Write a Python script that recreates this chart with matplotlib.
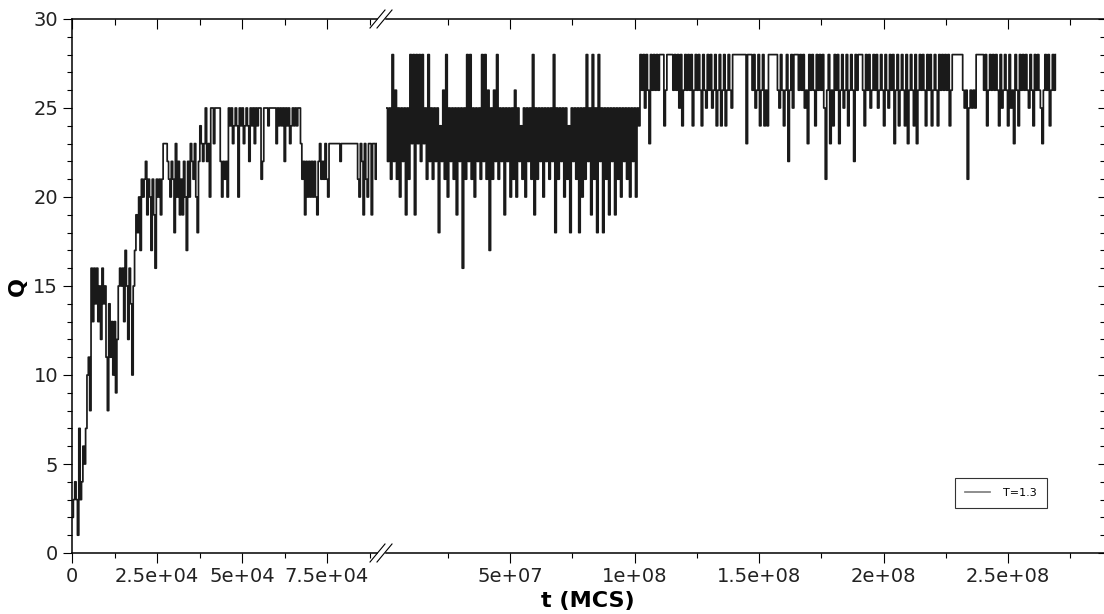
import numpy as np
import matplotlib.pyplot as plt
from matplotlib.lines import Line2D
from matplotlib.ticker import MultipleLocator

# Q(t) for T=1.3
# left part: one sample every 400 MCS starting at t=0
dt_left = 400
q_left = [2, 3, 4, 3, 1, 7, 3, 4, 6, 5, 7, 10, 11, 8,
          16, 13, 16, 14, 16, 13, 15, 12, 16, 14, 15, 11, 8, 14, 11, 13,
          10, 13, 9, 12, 15, 16, 15, 16, 13, 17, 15, 12, 16, 14, 10, 15,
          17, 19, 18, 20, 17, 21, 20, 21, 22, 19, 21, 20, 17, 21, 19, 16,
          21, 20, 21, 19, 21, 23, 23, 23, 22, 21, 20, 22, 21, 18, 23, 20,
          22, 19, 21, 19, 22, 20, 17, 22, 20, 23, 22, 21, 23, 20, 18, 22,
          24, 23, 22, 23, 25, 22, 23, 20, 25, 25, 23, 25, 25, 25, 25, 22,
          20, 22, 21, 22, 20, 25, 24, 25, 23, 24, 25, 24, 20, 25, 24, 25,
          23, 24, 25, 24, 22, 25, 24, 25, 23, 25, 24, 25, 25, 21, 22, 25,
          25, 25, 24, 25, 25, 25, 25, 25, 23, 25, 24, 25, 24, 25, 22, 25,
          24, 25, 23, 24, 25, 24, 25, 24, 25, 25, 23, 21, 22, 19, 22, 20,
          22, 20, 22, 20, 22, 20, 19, 22, 23, 21, 22, 21, 23, 21, 20, 23,
          23, 23, 23, 23, 23, 23, 23, 22, 23, 23, 23, 23, 23, 23, 23, 23,
          23, 23, 23, 23, 21, 20, 23, 22, 19, 23, 21, 20, 23, 23, 19, 23,
          23, 21, 23]

# right part: one sample every 6e5 MCS starting at t=2e5
t0_right = 2e5
dt_right = 6e5
# before the jump (t < 1e8): Q flips between ~25 and ~21
q_right_a = [25, 22, 25, 21, 28, 22, 26, 21, 25, 20, 25, 22, 25, 19, 25, 21,
             28, 23, 28, 19, 28, 23, 28, 22, 28, 23, 25, 21, 28, 22, 25, 21,
             25, 22, 25, 18, 24, 22, 26, 21, 28, 20, 25, 22, 25, 21, 25, 19,
             25, 22, 25, 16, 25, 21, 28, 22, 28, 21, 25, 20, 25, 22, 25, 21,
             28, 22, 28, 21, 26, 17, 25, 21, 26, 22, 28, 21, 25, 22, 25, 19,
             25, 22, 25, 20, 25, 21, 26, 20, 25, 22, 24, 21, 25, 20, 25, 22,
             25, 21, 28, 19, 25, 21, 25, 22, 25, 20, 25, 22, 25, 21, 25, 22,
             28, 18, 25, 21, 25, 22, 25, 20, 25, 21, 24, 18, 25, 22, 25, 21,
             25, 18, 25, 20, 25, 21, 28, 22, 25, 19, 28, 21, 25, 18, 28, 22,
             25, 18, 25, 21, 25, 19, 25, 22, 25, 19, 25, 21, 25, 20, 25, 22,
             25, 21, 25, 20, 25, 22, 25, 20, 25, 24]
# after the jump: Q sits at 28 with dips
q_right_b = [28, 26, 28, 25, 28, 26, 23, 28, 26, 28, 26, 28, 26, 28, 28, 28,
             24, 26, 28, 28, 28, 28, 26, 28, 26, 28, 25, 28, 24, 26, 28, 26,
             28, 26, 28, 24, 26, 28, 26, 28, 26, 24, 28, 26, 25, 28, 26, 28,
             25, 26, 28, 24, 26, 28, 24, 26, 28, 24, 26, 28, 26, 25, 28, 28,
             28, 28, 28, 28, 28, 28, 28, 23, 28, 28, 28, 26, 28, 25, 26, 28,
             24, 26, 28, 24, 26, 24, 28, 28, 28, 28, 28, 28, 26, 25, 28, 26,
             24, 26, 28, 22, 26, 28, 25, 28, 28, 28, 26, 28, 26, 28, 25, 26,
             23, 28, 26, 28, 26, 24, 28, 26, 28, 26, 28, 25, 21, 26, 28, 23,
             26, 24, 28, 26, 28, 23, 26, 28, 25, 26, 28, 24, 26, 28, 26, 22,
             28, 26, 28, 28, 28, 26, 24, 28, 26, 28, 25, 26, 28, 26, 28, 25,
             26, 28, 26, 24, 28, 26, 25, 28, 26, 28, 23, 26, 28, 24, 26, 28,
             26, 24, 28, 23, 26, 28, 26, 24, 28, 23, 26, 28, 26, 28, 26, 24,
             28, 26, 28, 24, 26, 28, 26, 24, 28, 26, 28, 26, 28, 26, 28, 24,
             26, 28, 28, 28, 28, 28, 28, 28, 26, 25, 26, 21, 25, 26, 25, 26,
             25, 28, 28, 28, 28, 28, 26, 28, 24, 26, 28, 26, 28, 26, 28, 26,
             24, 28, 25, 26, 28, 26, 24, 28, 25, 26, 23, 28, 26, 24, 28, 26,
             28, 26, 28, 26, 25, 28, 26, 24, 28, 26, 28, 26, 25, 23, 26, 28,
             26, 28, 24, 26, 28, 26, 28]

x_left_ticks = [0, 25000, 50000, 75000]
x_left_labels = ['0', '2.5e+04', '5e+04', '7.5e+04']
x_right_ticks = [5e7, 1e8, 1.5e8, 2e8, 2.5e8]
x_right_labels = ['5e+07', '1e+08', '1.5e+08', '2e+08', '2.5e+08']
y_ticks = [0, 5, 10, 15, 20, 25, 30]

t_left = dt_left * np.arange(len(q_left))
q_right = q_right_a + q_right_b
t_right = t0_right + dt_right * np.arange(len(q_right))

W, H = 1104, 614
fig = plt.figure(figsize=(W / 100, H / 100), dpi=100)
ax1 = fig.add_axes([72 / W, 61 / H, (377 - 72) / W, 534 / H])
ax2 = fig.add_axes([386 / W, 61 / H, (W - 386) / W, 534 / H])

lc = '0.1'
ax1.plot(t_left, q_left, drawstyle='steps-post', color=lc, lw=1.25, snap=False)
ax2.plot(t_right, q_right, drawstyle='steps-post', color=lc, lw=1.25, snap=False,
         label='T=1.3')

ax1.set_xlim(0, (377 - 72) / 85 * 25000)
ax2.set_xlim(t0_right, (W - 385.5) / 124.5 * 5e7)
for ax in (ax1, ax2):
    ax.set_ylim(0, 30)
    ax.spines['top'].set_visible(False)
    ax.spines['right'].set_visible(False)
    ax.spines['bottom'].set_linewidth(1.1)
    ax.yaxis.set_minor_locator(MultipleLocator(1))
    ax.tick_params(axis='x', which='major', direction='out', length=7.2, width=0.8,
                   labelsize=14, pad=3, labelcolor='#222222')
    ax.tick_params(axis='x', which='minor', direction='out', length=3.6, width=0.8)

ax1.spines['left'].set_linewidth(1.1)
ax2.spines['left'].set_visible(False)

ax1.set_xticks(x_left_ticks)
ax1.set_xticklabels(x_left_labels)
ax1.xaxis.set_minor_locator(MultipleLocator(12500))
ax2.set_xticks(x_right_ticks)
ax2.set_xticklabels(x_right_labels)
ax2.xaxis.set_minor_locator(MultipleLocator(2.5e7))

ax1.set_yticks(y_ticks)
ax1.tick_params(axis='y', which='major', direction='out', length=6.5, width=0.8,
                labelsize=14, pad=3.5, labelcolor='#222222')
ax1.tick_params(axis='y', which='minor', direction='out', length=3.6, width=0.8)

ax2.set_yticks(y_ticks)
ax2.yaxis.tick_right()
ax2.tick_params(axis='y', which='major', direction='in', length=4.3, width=0.8,
                labelright=False, right=True, left=False)
ax2.tick_params(axis='y', which='minor', direction='in', length=2.9, width=0.8,
                right=True, left=False)

# top axis: ticks point inward, no labels
for ax, major, minor in ((ax1, x_left_ticks, 12500), (ax2, x_right_ticks, 2.5e7)):
    top = ax.secondary_xaxis('top')
    top.set_xticks(major)
    top.xaxis.set_minor_locator(MultipleLocator(minor))
    top.spines['top'].set_linewidth(1.1)
    top.tick_params(axis='x', which='major', direction='in', length=7.2, width=0.8,
                    labeltop=False)
    top.tick_params(axis='x', which='minor', direction='in', length=4.3, width=0.8)

# axis break marks
for y in (19, 553):
    for x0 in (370, 377):
        fig.add_artist(Line2D([x0 / W, (x0 + 15) / W], [1 - (y + 9) / H, 1 - (y - 9) / H],
                              color='k', lw=0.8))

fig.text(588 / W, 1 - 601 / H, 't (MCS)', ha='center', va='center',
         fontsize=16, fontweight='bold')
fig.text(18 / W, 1 - 287 / H, 'Q', ha='center', va='center', rotation=90,
         fontsize=16, fontweight='bold')

leg = ax2.legend(loc='lower right', bbox_to_anchor=(1047 / W, 106 / H),
                 bbox_transform=fig.transFigure, borderaxespad=0, fontsize=8,
                 fancybox=False, edgecolor='black', handlelength=2.2,
                 handletextpad=1.2, borderpad=0.9)
leg.get_frame().set_linewidth(0.8)
leg.get_lines()[0].set_color('0.5')

fig.savefig('out.png', dpi=100)
